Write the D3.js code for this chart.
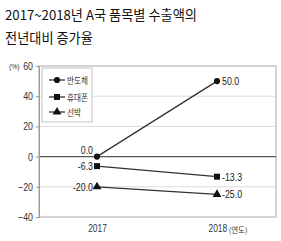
<!DOCTYPE html>
<html><head><meta charset="utf-8">
<script src="https://cdn.jsdelivr.net/npm/d3@7"></script>
<style>body{margin:0;background:#fff;}svg{display:block;}</style>
</head><body>
<svg id="c" width="281" height="241"></svg>
<script>
const titleLines = ["2017~2018년 A국 품목별 수출액의", "전년대비 증가율"];
const years = ["2017", "2018"];
const xUnit = "(연도)";
const seriesNames = ["반도체", "휴대폰", "선박"];
const seriesShapes = ["circle", "square", "triangle"];
const semi = [0.0, 50.0];
const phone = [-6.3, -13.3];
const ship = [-20.0, -25.0];
const yTicks = [60, 40, 20, 0, -20, -40];
const allSeries = [semi, phone, ship];

const svg = d3.select("#c");
const numFont = "'Liberation Sans',sans-serif";
function condense(sel, f) {
  sel.each(function(){
    const w = this.getComputedTextLength();
    d3.select(this).attr("textLength", w*f).attr("lengthAdjust","spacingAndGlyphs");
  });
}

svg.selectAll("text.title").data(titleLines).enter().append("text")
  .attr("x", 5).attr("y", (d,i)=>20+i*23)
  .attr("font-family", "'Noto Sans CJK KR',sans-serif").attr("font-size", 13.2)
  .attr("fill", "#111").text(d=>d);

const L = 39, R = 276, T = 66, B = 217;
const y = d3.scaleLinear().domain([-40, 60]).range([B, T]);
const x = d3.scalePoint().domain(years).range([97, 217]);

// gridlines
svg.append("g").selectAll("line").data(yTicks.filter(v=>v!==60 && v!==-40 && v!==0)).enter().append("line")
  .attr("x1", L).attr("x2", R).attr("y1", d=>y(d)).attr("y2", d=>y(d))
  .attr("stroke", "#dcdcdc").attr("stroke-width", 1);
// frame
svg.append("rect").attr("x", L).attr("y", T).attr("width", R-L).attr("height", B-T)
  .attr("fill", "none").attr("stroke", "#c4c4c4").attr("stroke-width", 1.5);
// zero line
svg.append("line").attr("x1", L).attr("x2", R).attr("y1", y(0)).attr("y2", y(0))
  .attr("stroke", "#555").attr("stroke-width", 1.2);

// y axis
const yAxis = d3.axisLeft(y).tickValues(yTicks).tickSize(3).tickPadding(3);
const ga = svg.append("g").attr("transform", `translate(${L},0)`).call(yAxis);
ga.select(".domain").attr("stroke", "#999");
ga.selectAll(".tick line").attr("stroke", "#999");
ga.selectAll("text").attr("font-family", numFont).attr("font-size", 11).attr("fill", "#333");
condense(ga.selectAll("text"), 0.8);

const pct = svg.append("text").attr("x", 9).attr("y", 69).attr("font-family", numFont)
  .attr("font-size", 8).attr("fill", "#333").text("(%)");
condense(pct, 0.85);

// x labels
const xAxis = d3.axisBottom(x).tickSize(0).tickPadding(8);
const gx = svg.append("g").attr("transform", `translate(0,${B})`).call(xAxis);
gx.select(".domain").remove();
gx.selectAll("text").attr("font-family", numFont).attr("font-size", 10.5).attr("fill", "#333");
const sx = 0.8;
const t17 = gx.selectAll(".tick").filter(d=>d==="2017").select("text");
t17.attr("transform", `scale(${sx},1)`);
const t18 = gx.selectAll(".tick").filter(d=>d==="2018").select("text")
  .attr("text-anchor","start").attr("x", -9/sx).attr("transform", `scale(${sx},1)`);
const w18 = t18.node().getComputedTextLength() * sx;
svg.append("text").attr("x", x("2018") - 9 + w18 + 2).attr("y", B + 15.5)
  .attr("font-family","'Noto Sans CJK KR',sans-serif").attr("font-size", 7.5).attr("fill","#333").text(xUnit);

// lines
const line = d3.line().x((d,i)=>x(years[i])).y(d=>y(d));
const sym = {circle: d3.symbolCircle, square: d3.symbolSquare, triangle: d3.symbolTriangle};
const sizes = {circle: 30, square: 36, triangle: 34};
allSeries.forEach((s, k)=>{
  svg.append("path").datum(s).attr("d", line).attr("fill","none").attr("stroke","#333").attr("stroke-width",1.3);
  s.forEach((v,i)=>{
    svg.append("path").attr("d", d3.symbol().type(sym[seriesShapes[k]]).size(sizes[seriesShapes[k]])())
      .attr("transform", `translate(${x(years[i])},${y(v)})`).attr("fill","#111");
  });
});

// value labels
allSeries.forEach((s,k)=>{
  s.forEach((v,i)=>{
    const px = x(years[i]), py = y(v);
    const t = svg.append("text").attr("font-family", numFont).attr("font-size", 11).attr("fill","#222")
      .text(v.toFixed(1));
    if (i===0) {
      t.attr("x", px-4).attr("y", k===0 ? py-3 : py+4).attr("text-anchor","end");
    } else {
      t.attr("x", px+5).attr("y", py+4).attr("text-anchor","start");
    }
    condense(t, 0.8);
  });
});

// legend
svg.append("rect").attr("x", 42).attr("y", 68).attr("width", 50).attr("height", 54)
  .attr("fill","#fff").attr("stroke","#c4c4c4").attr("stroke-width",1);
const legY = [80, 97, 112];
seriesNames.forEach((n,k)=>{
  svg.append("line").attr("x1", 49).attr("x2", 65).attr("y1", legY[k]).attr("y2", legY[k])
    .attr("stroke","#333").attr("stroke-width",1.3);
  svg.append("path").attr("d", d3.symbol().type(sym[seriesShapes[k]]).size(sizes[seriesShapes[k]])())
    .attr("transform", `translate(57,${legY[k]})`).attr("fill","#111");
  const lt = svg.append("text").attr("x", 67).attr("y", legY[k]+3.5).attr("font-family","'Noto Sans CJK KR',sans-serif")
    .attr("font-size", 9).attr("fill","#333").text(n);
  condense(lt, 0.85);
});
</script>
</body></html>
